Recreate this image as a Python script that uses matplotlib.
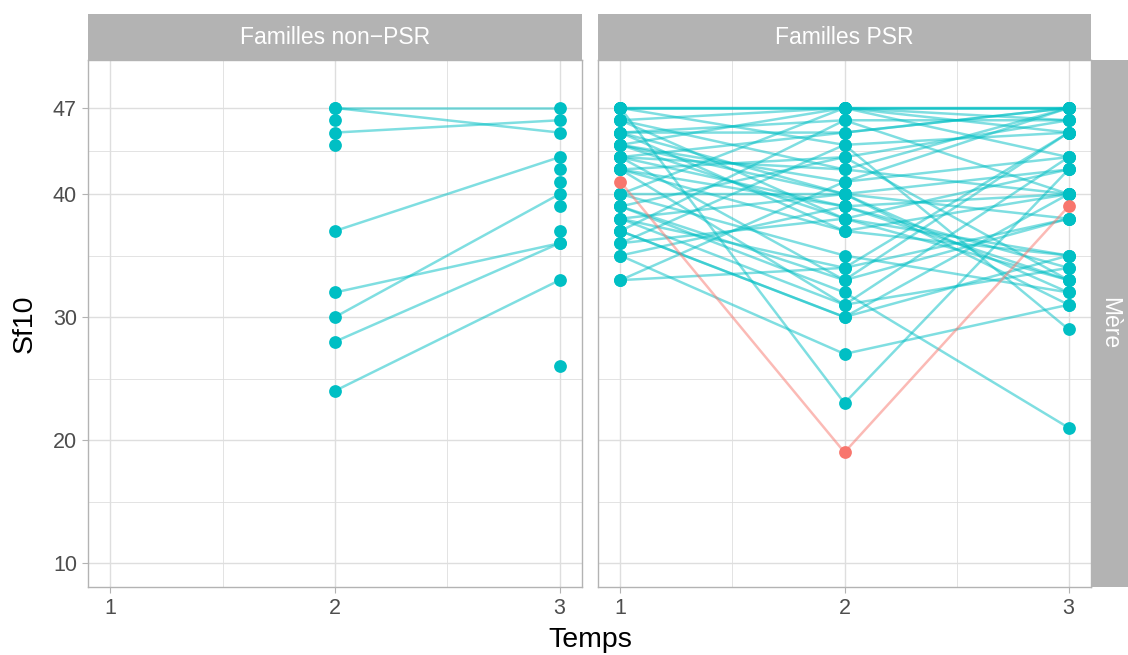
import numpy as np
import matplotlib
matplotlib.use("Agg")
import matplotlib.pyplot as plt
from matplotlib.patches import Rectangle

plt.rcParams['font.family'] = ['Liberation Sans', 'DejaVu Sans']

# ---------------- data ----------------
times = [1, 2, 3]
time_labels = ["1", "2", "3"]
panel_titles = ["Familles non\u2212PSR", "Familles PSR"]
row_title = "Mère"
y_ticks = [10, 20, 30, 40, 47]
y_minor = [15, 25, 35, 43.5]

nan = np.nan
# Familles non-PSR: values at Temps 1, 2, 3 per subject
nonpsr_t1 = [nan] * 15
nonpsr_t2 = [47, 47, 45, 37, 32, 30, 28, 24, 46, 44, nan, nan, nan, nan, nan]
nonpsr_t3 = [47, 45, 46, 43, 36, 40, 36, 33, nan, nan, 42, 41, 39, 37, 26]
nonpsr_group = ["b"] * 15

# Familles PSR
psr_t1 = [47, 47, 47, 47, 47, 46, 46, 45, 45, 45, 44, 44, 44, 43, 43, 43, 42, 42, 42, 41,
          40, 40, 40, 39, 39, 39, 38, 38, 38, 37, 37, 37, 36, 36, 35, 35, 33, 33,
          44, 42, 46, 43, 45]
psr_t2 = [47, 47, 47, 23, 44, 47, 42, 45, 40, 46, 38, 41, 47, 39, 33, 45, 37, 43, 31, 19,
          47, 35, 40, 43, 32, 33, 40, 34, 31, 46, 30, 30, 38, 44, 27, 39, 34, 41,
          40, 39, 38, 42, 37]
psr_t3 = [47, 47, 46, 42, 45, 47, 40, 47, 32, 46, 35, 43, 45, 34, 38, 47, 40, 33, 43, 39,
          43, 32, 38, 46, 21, 45, 31, 45, 34, 40, 35, 40, 42, 29, 31, 33, 38, 47,
          42, 40, 33, 47, 35]
psr_group = ["b"] * 19 + ["a"] + ["b"] * 23

colors = {"a": "#F8766D", "b": "#00BFC4"}

# ---------------- layout ----------------
W, H = 1128, 655
fig = plt.figure(figsize=(W / 100, H / 100), dpi=100)
fig.patch.set_facecolor("white")

def fx(px):
    return px / W

def fy(py):
    return 1 - py / H

panel_top, panel_bot = 60, 587
panels_x = [(88, 582), (598, 1091)]
grid_col = "#DEDEDE"
border_col = "#B3B3B3"
strip_col = "#B3B3B3"
tick_col = "#4D4D4D"

datasets = [
    (nonpsr_t1, nonpsr_t2, nonpsr_t3, nonpsr_group),
    (psr_t1, psr_t2, psr_t3, psr_group),
]

axes = []
for i, ((x0, x1), (t1, t2, t3, grp)) in enumerate(zip(panels_x, datasets)):
    ax = fig.add_axes([fx(x0), fy(panel_bot), fx(x1 - x0), (panel_bot - panel_top) / H])
    axes.append(ax)
    ax.set_xlim(0.9, 3.1)
    ax.set_ylim(8.05, 50.9)
    ax.set_xticks(times)
    ax.set_xticks([1.5, 2.5], minor=True)
    ax.set_yticks(y_ticks)
    ax.set_yticks(y_minor, minor=True)
    ax.grid(True, which="major", color=grid_col, linewidth=1.0, zorder=0)
    ax.grid(True, which="minor", color=grid_col, linewidth=0.6, zorder=0)
    ax.set_axisbelow(True)
    for s in ax.spines.values():
        s.set_color(border_col)
        s.set_linewidth(1.0)
    ax.tick_params(which="minor", length=0)
    ax.tick_params(which="major", color=border_col, length=4, width=0.8,
                   labelsize=15.5, labelcolor=tick_col, pad=4)
    ax.set_xticklabels(time_labels)
    if i == 0:
        ax.set_yticklabels([str(v) for v in y_ticks])
    else:
        ax.tick_params(axis="y", labelleft=False, length=0)

    vals = np.array([t1, t2, t3], dtype=float).T
    for g in ["b", "a"]:
        for row, gg in zip(vals, grp):
            if gg != g:
                continue
            m = ~np.isnan(row)
            xs = np.array(times)[m]
            ys = row[m]
            if len(xs) > 1:
                ax.plot(xs, ys, color=colors[g], alpha=0.5, linewidth=1.8,
                        solid_capstyle="butt", zorder=2)
    for g in ["b", "a"]:
        for row, gg in zip(vals, grp):
            if gg != g:
                continue
            m = ~np.isnan(row)
            ax.plot(np.array(times)[m], row[m], linestyle="none", marker="o",
                    markersize=9.2, markeredgewidth=0, color=colors[g], zorder=3)

    # top strip
    fig.patches.append(Rectangle((fx(x0), fy(panel_top)), fx(x1 - x0), (panel_top - 14) / H,
                                 transform=fig.transFigure, facecolor=strip_col,
                                 edgecolor="none", zorder=1))
    fig.text(fx((x0 + x1) / 2), fy((14 + panel_top) / 2), panel_titles[i],
             color="white", fontsize=16.5, ha="center", va="center")

# right strip
fig.patches.append(Rectangle((fx(1092), fy(panel_bot)), fx(1128 - 1092), (panel_bot - panel_top) / H,
                             transform=fig.transFigure, facecolor=strip_col,
                             edgecolor="none", zorder=1))
fig.text(fx(1110), fy((panel_top + panel_bot) / 2), row_title, color="white",
         fontsize=16.5, rotation=-90, ha="center", va="center")

# axis titles
fig.text(fx(590), fy(640), "Temps", fontsize=20.5, ha="center", va="center", color="black")
fig.text(fx(25), fy(324), "Sf10", fontsize=20.5, ha="center", va="center", rotation=90, color="black")

fig.savefig("out.png", dpi=100, facecolor="white")
